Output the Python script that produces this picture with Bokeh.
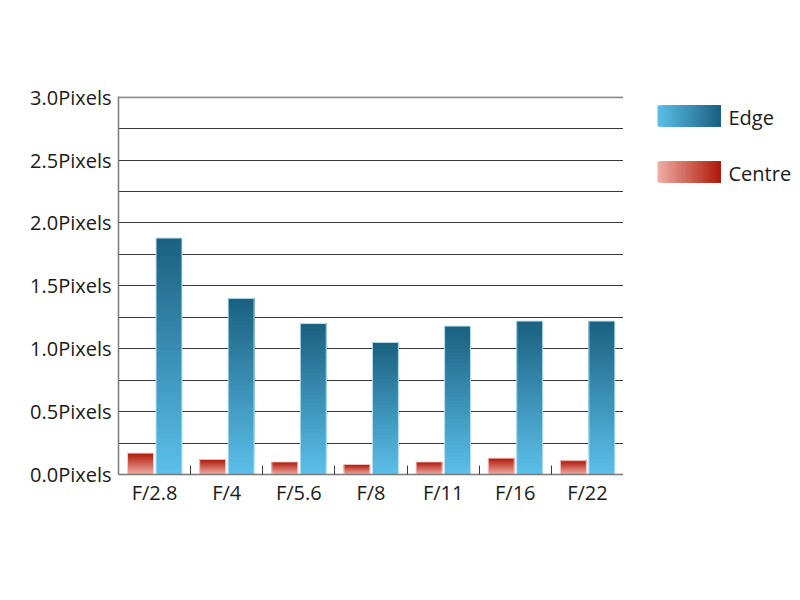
from bokeh.plotting import figure
from bokeh.models import Range1d, FixedTicker, PrintfTickFormatter, Span
from bokeh.layouts import row
from bokeh.embed import file_html
from bokeh.resources import INLINE
from bokeh.core.properties import value

# ---- data ----
categories = ["F/2.8", "F/4", "F/5.6", "F/8", "F/11", "F/16", "F/22"]
edge = [1.88, 1.40, 1.20, 1.05, 1.18, 1.22, 1.22]
centre = [0.17, 0.12, 0.10, 0.08, 0.10, 0.13, 0.11]
y_ticks = [0.0, 0.5, 1.0, 1.5, 2.0, 2.5, 3.0]
series_names = ["Edge", "Centre"]

# ---- style ----
EDGE_LIGHT = (0x5C, 0xC0, 0xEA)
EDGE_DARK = (0x1A, 0x60, 0x80)
CENTRE_LIGHT = (0xF0, 0xAD, 0xA6)
CENTRE_DARK = (0xAE, 0x18, 0x08)
FONT = "Open Sans"
FONT_SIZE = "20px"
TEXT_COLOR = "#1a1a1a"
LINE_COLOR = "#3a3a3a"
AXIS_COLOR = "#7a7a7a"
N = 40
W = 0.36
H = 590
TOP, BOTTOM = 96, 474


def mix(c0, c1, t):
    return "#%02x%02x%02x" % tuple(int(round(a + (b - a) * t)) for a, b in zip(c0, c1))


p = figure(width=623, height=H, x_range=Range1d(0, len(categories)), y_range=Range1d(0, 3.005),
           output_backend="svg", toolbar_location=None,
           min_border_left=118, min_border_right=0, min_border_top=TOP, min_border_bottom=H - BOTTOM)
p.outline_line_color = None
p.background_fill_color = "white"
p.border_fill_color = "white"
p.xgrid.visible = False
p.ygrid.ticker = FixedTicker(ticks=[q / 4 for q in range(1, 13)])
p.ygrid.grid_line_color = LINE_COLOR
p.ygrid.grid_line_width = 1
p.add_layout(Span(location=y_ticks[-1], dimension="width", line_color="#8a8a8a", line_width=2))


def add_bars(vals, offset, c_light, c_dark, outline):
    # nested strips: each strip runs from its own bottom up to the bar top,
    # drawn light->dark so the vertical gradient has no seams
    L, R, B, T, C = [], [], [], [], []
    for k in range(N):
        for i, v in enumerate(vals):
            cx = i + 0.5 + offset
            L.append(cx - W / 2)
            R.append(cx + W / 2)
            B.append(v * k / N)
            T.append(v)
            C.append(mix(c_light, c_dark, (k + 0.5) / N))
    p.quad(left=L, right=R, bottom=B, top=T, fill_color=C, line_color=None)
    xs = [i + 0.5 + offset for i in range(len(vals))]
    p.quad(left=[x - W / 2 for x in xs], right=[x + W / 2 for x in xs], bottom=0, top=vals,
           fill_color=None, line_color=outline, line_width=1)


add_bars(centre, -0.195, CENTRE_LIGHT, CENTRE_DARK, "#f6cfcb")
add_bars(edge, 0.20, EDGE_LIGHT, EDGE_DARK, "#bfe3f2")

# x axis
p.xaxis.ticker = FixedTicker(ticks=[i + 0.5 for i in range(len(categories))],
                             minor_ticks=[i + 1 for i in range(len(categories))])
p.xaxis.major_label_overrides = {i + 0.5: c for i, c in enumerate(categories)}
p.xaxis.major_tick_in = 0
p.xaxis.major_tick_out = 0
p.xaxis.minor_tick_in = 9
p.xaxis.minor_tick_out = 0
p.xaxis.minor_tick_line_color = LINE_COLOR
p.xaxis.axis_line_color = AXIS_COLOR
p.xaxis.axis_line_width = 1.5
p.xaxis.major_label_standoff = 4

# y axis
p.yaxis.ticker = FixedTicker(ticks=y_ticks, minor_ticks=[])
p.yaxis.formatter = PrintfTickFormatter(format="%.1fPixels")
p.yaxis.major_tick_in = 0
p.yaxis.major_tick_out = 0
p.yaxis.minor_tick_line_color = None
p.yaxis.axis_line_color = AXIS_COLOR
p.yaxis.axis_line_width = 1.5
p.yaxis.major_label_standoff = 7

for ax in (p.xaxis, p.yaxis):
    ax.major_label_text_font = FONT
    ax.major_label_text_font_size = FONT_SIZE
    ax.major_label_text_color = TEXT_COLOR

# legend panel (frame aligned with main frame; y in page pixels)
LW = 177
lg = figure(width=LW, height=H, x_range=Range1d(0, LW), y_range=Range1d(BOTTOM, TOP),
            output_backend="svg", toolbar_location=None,
            x_axis_location=None, y_axis_location=None,
            min_border_left=0, min_border_right=0, min_border_top=TOP, min_border_bottom=H - BOTTOM)
lg.outline_line_color = None
lg.grid.visible = False

sw_left, sw_right, sw_h = 34, 97, 21
sw_tops = [105, 161]
grads = [(EDGE_LIGHT, EDGE_DARK), (CENTRE_LIGHT, CENTRE_DARK)]
for top, (c0, c1) in zip(sw_tops, grads):
    L, C = [], []
    for k in range(N):
        L.append(sw_left + (sw_right - sw_left) * k / N)
        C.append(mix(c0, c1, (k + 0.5) / N))
    lg.quad(left=L, right=sw_right, top=top, bottom=top + sw_h, fill_color=C, line_color=None)

lg.text(x=[105, 105], y=[t + sw_h / 2 + 1 for t in sw_tops], text=series_names,
        text_baseline="middle", text_align="left", text_font=value(FONT),
        text_font_size=FONT_SIZE, text_color=TEXT_COLOR)

layout = row(p, lg)
open("out.html", "w").write(file_html(layout, INLINE))
